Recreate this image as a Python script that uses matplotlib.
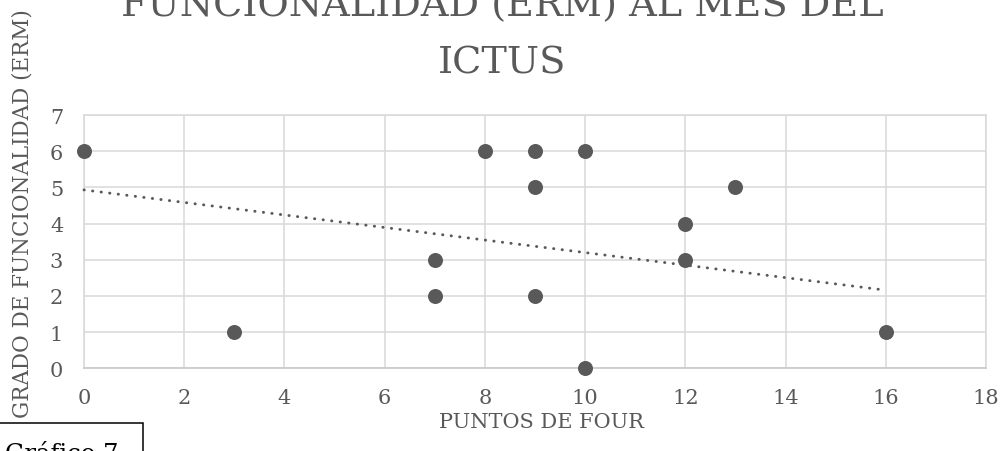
import matplotlib
matplotlib.use("Agg")
import matplotlib.pyplot as plt
import matplotlib.patches as mpatches
import numpy as np

# FOUR score vs. functional grade (ERM) one month after stroke
four_points = [0, 3, 7, 7, 8, 9, 9, 9, 10, 10, 12, 12, 13, 16]
erm_grade = [6, 1, 3, 2, 6, 6, 5, 2, 6, 0, 4, 3, 5, 1]

# linear trend line (intercept, slope)
trend_intercept = 4.93
trend_slope = -0.1732

x_ticks = [0, 2, 4, 6, 8, 10, 12, 14, 16, 18]
y_ticks = [0, 1, 2, 3, 4, 5, 6, 7]

title_lines = ["FUNCIONALIDAD (ERM) AL MES DEL", "ICTUS"]
x_label = "PUNTOS DE FOUR"
y_label = "GRADO DE FUNCIONALIDAD (ERM)"
caption = "Gráfico 7"

TEXT = "#595959"
GRID = "#d9d9d9"
FONT = "DejaVu Serif"

W, H = 1004, 452
fig = plt.figure(figsize=(W / 100, H / 100), dpi=100)
fig.patch.set_facecolor("white")

left, right, top, bottom = 84, 986, 116, 369.3
ax = fig.add_axes([left / W, 1 - bottom / H, (right - left) / W, (bottom - top) / H])

ax.set_xlim(0, 18)
ax.set_ylim(0, 7)
ax.set_xticks(x_ticks)
ax.set_yticks(y_ticks)
ax.grid(True, color=GRID, linewidth=1.1)
ax.set_axisbelow(True)
for name, sp in ax.spines.items():
    sp.set_color(GRID)
    sp.set_linewidth(1.1)
ax.spines["bottom"].set_color("#cccccc")
ax.spines["bottom"].set_linewidth(1.3)

ax.tick_params(axis="both", length=0, labelsize=15, labelcolor=TEXT)
ax.tick_params(axis="y", pad=15)
ax.tick_params(axis="x", pad=14)
for lab in ax.get_xticklabels() + ax.get_yticklabels():
    lab.set_fontfamily(FONT)

# trend line across the observed range
tx = np.array([min(four_points), max(four_points)], dtype=float)
ty = trend_intercept + trend_slope * tx
ax.plot(tx, ty, color=TEXT, linewidth=2.1, linestyle=(0, (0.1, 2.85)),
        dash_capstyle="round", zorder=3, clip_on=False)

ax.plot(four_points, erm_grade, linestyle="none", marker="o", markersize=10.8,
        color=TEXT, markeredgewidth=0, zorder=4, clip_on=False)

# title (two lines)
fig.text(502 / W, 1 - 16 / H, title_lines[0], ha="center", va="baseline",
         fontsize=27.5, color=TEXT, family=FONT)
fig.text(502 / W, 1 - 73 / H, title_lines[1], ha="center", va="baseline",
         fontsize=27.5, color=TEXT, family=FONT)

# axis titles
fig.text(542 / W, 1 - 428 / H, x_label, ha="center", va="baseline",
         fontsize=15, color=TEXT, family=FONT)
fig.text(23 / W, 1 - 214 / H, y_label, ha="center", va="center", rotation=90,
         fontsize=15.5, color=TEXT, family=FONT)

# caption box in the lower-left corner
box = mpatches.Rectangle((-3 / W, -3 / H), (143 + 3) / W, (452 - 424 + 3) / H,
                         transform=fig.transFigure, fill=True, facecolor="white",
                         edgecolor="black", linewidth=1.1, zorder=5)
fig.patches.append(box)
fig.text(5 / W, 1 - 461 / H, caption, ha="left", va="baseline",
         fontsize=17.5, color="black", family=FONT, zorder=6)

fig.savefig("out.png", dpi=100, facecolor="white")
